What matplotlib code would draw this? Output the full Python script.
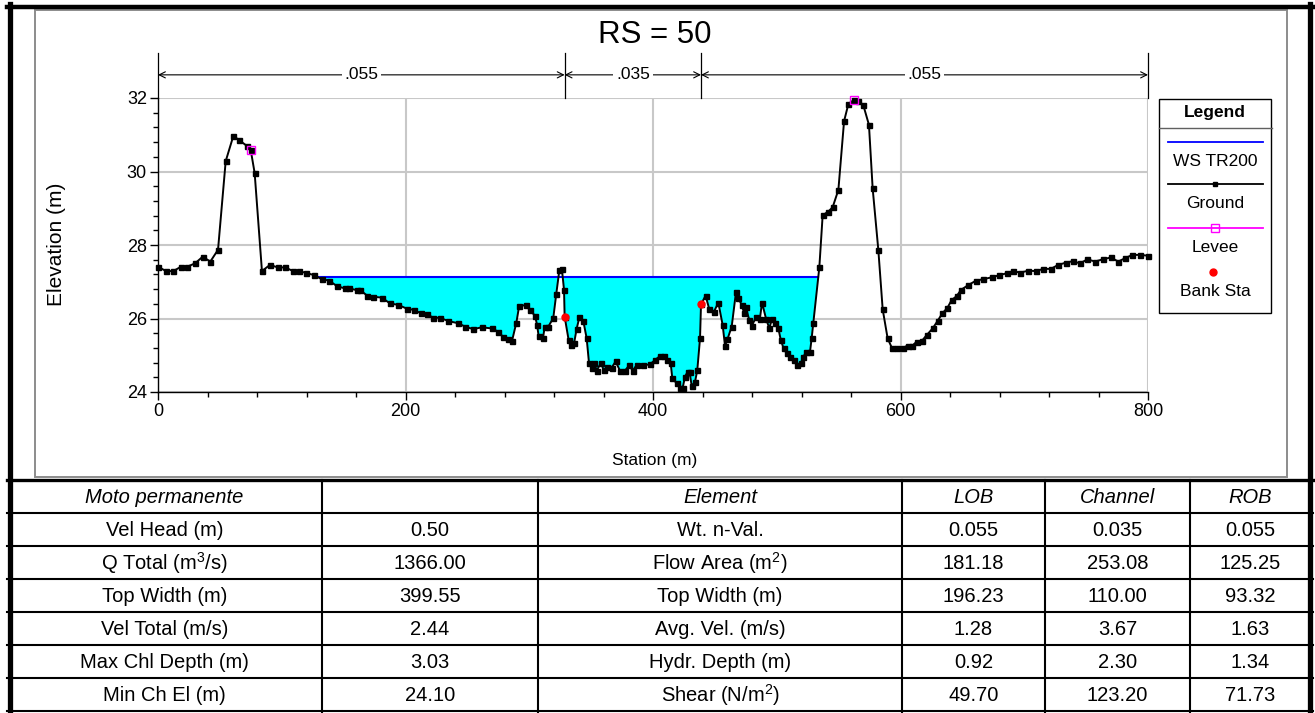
# coding: utf-8

import matplotlib
matplotlib.use("Agg")
import matplotlib.pyplot as plt
from matplotlib.lines import Line2D
from matplotlib.patches import Rectangle
from matplotlib.ticker import MultipleLocator
import numpy

plt.rcParams['font.family'] = ['Liberation Sans', 'DejaVu Sans']
plt.rcParams['mathtext.fontset'] = 'custom'
plt.rcParams['mathtext.rm'] = 'Liberation Sans'
plt.rcParams['mathtext.it'] = 'Liberation Sans:italic'

NARROW = ['Liberation Sans Narrow', 'Liberation Sans', 'DejaVu Sans']

station = [0, 6.5, 12.4, 18.6, 23.7, 29.9, 36.1, 42.3, 48.5, 54.7, 60.9, 65.7, 71.7, 74.9, 78.1,
           84.0, 90.5, 96.7, 102.9, 109.1, 113.7, 119.9, 126.1, 132.3, 138.4, 144.6, 150.8, 154.6,
           160.6, 163.5, 169.1, 174.0, 180.7, 187.5, 194.2, 200.9, 207.1, 212.5, 217.1, 222.5,
           227.9, 234.6, 242.7, 248.1, 254.8, 261.6, 269.7, 275.0, 279.0, 282.5, 286.0, 289.6,
           291.8, 297.4, 300.3, 304.6, 306.3, 307.6, 311.1, 312.5, 315.4, 319.4, 321.8, 324.3,
           326.4, 328.1, 328.6, 331.8, 333.7, 336.2, 338.3, 340.5, 343.7, 346.4, 348.3, 350.5,
           352.4, 354.5, 358.0, 360.0, 362.5, 366.5, 369.8, 373.3, 377.3, 380.9, 383.5, 386.8,
           392.2, 397.5, 401.6, 405.7, 408.9, 411.0, 414.3, 415.6, 419.1, 421.8, 423.9, 425.9,
           428.0, 429.5, 431.3, 434.0, 435.8, 438.0, 438.8, 442.5, 445.5, 449.3, 452.8, 456.3,
           458.2, 460.1, 463.6, 467.1, 469.0, 471.7, 473.5, 475.0, 477.8, 479.8, 483.2, 486.4,
           488.1, 491.3, 494.0, 496.2, 498.7, 501.3, 503.3, 505.5, 508.0, 511.0, 513.6, 516.1,
           519.5, 521.5, 523.6, 526.9, 528.2, 529.5, 534.4, 537.1, 541.7, 545.2, 549.8, 554.4,
           557.9, 562.4, 566.0, 569.9, 574.5, 577.5, 582.1, 585.6, 589.6, 592.9, 597.0, 602.3,
           605.8, 609.5, 613.1, 617.5, 621.2, 626.0, 630.1, 633.8, 637.9, 641.3, 645.4, 648.9,
           654.8, 661.0, 666.9, 673.7, 679.9, 685.8, 690.7, 696.6, 703.3, 709.5, 715.4, 721.5,
           727.5, 733.7, 739.2, 745.1, 751.0, 757.2, 763.4, 769.9, 776.0, 781.4, 787.3, 793.5,
           799.8]
elevation = [27.41, 27.29, 27.29, 27.41, 27.41, 27.50, 27.68, 27.55, 27.87, 30.28, 30.97, 30.85,
             30.70, 30.59, 29.96, 27.29, 27.46, 27.39, 27.39, 27.29, 27.29, 27.24, 27.18, 27.07,
             27.03, 26.88, 26.82, 26.82, 26.77, 26.77, 26.62, 26.59, 26.57, 26.41, 26.37, 26.27,
             26.23, 26.14, 26.12, 26.02, 26.02, 25.93, 25.87, 25.78, 25.71, 25.76, 25.73, 25.64,
             25.49, 25.44, 25.38, 25.89, 26.33, 26.37, 26.23, 26.08, 25.83, 25.52, 25.46, 25.78,
             25.78, 26.01, 26.66, 27.31, 27.34, 26.78, 26.05, 25.42, 25.28, 25.32, 25.72, 26.03,
             25.93, 25.46, 24.78, 24.66, 24.80, 24.58, 24.80, 24.60, 24.67, 24.66, 24.83, 24.58,
             24.58, 24.73, 24.58, 24.73, 24.73, 24.75, 24.87, 24.98, 24.98, 24.87, 24.78, 24.37,
             24.24, 24.10, 24.10, 24.42, 24.55, 24.55, 24.16, 24.28, 24.60, 25.46, 26.39, 26.62,
             26.25, 26.19, 26.43, 25.82, 25.25, 25.43, 25.78, 26.73, 26.55, 26.37, 26.16, 26.30,
             25.96, 25.80, 26.03, 26.00, 26.43, 26.00, 25.73, 26.00, 25.88, 25.73, 25.41, 25.19,
             25.05, 24.95, 24.87, 24.73, 24.80, 24.94, 25.10, 25.10, 25.46, 25.87, 27.39, 28.81,
             28.91, 29.03, 29.50, 31.37, 31.84, 31.95, 31.92, 31.81, 31.27, 29.54, 27.86, 26.25,
             25.46, 25.21, 25.21, 25.21, 25.26, 25.26, 25.37, 25.40, 25.55, 25.73, 25.94, 26.14,
             26.29, 26.50, 26.61, 26.78, 26.91, 27.03, 27.07, 27.12, 27.18, 27.23, 27.29, 27.25,
             27.30, 27.29, 27.35, 27.35, 27.46, 27.52, 27.56, 27.50, 27.61, 27.55, 27.61, 27.66,
             27.55, 27.64, 27.73, 27.73, 27.71]
ws_elev = 27.13
levee_sta = [74.9, 562.4]
levee_elev = [30.59, 31.95]
bank_sta = [328.6, 438.8]
bank_elev = [26.05, 26.39]
n_edges = [0, 328.6, 438.8, 800]
n_labels = [".055", ".035", ".055"]

table_header = ["Moto permanente", "", "Element", "LOB", "Channel", "ROB"]
left_names = ["Vel Head (m)", "Q Total (m$^3$/s)", "Top Width (m)", "Vel Total (m/s)",
              "Max Chl Depth (m)", "Min Ch El (m)"]
left_values = ["0.50", "1366.00", "399.55", "2.44", "3.03", "24.10"]
right_names = ["Wt. n-Val.", "Flow Area (m$^2$)", "Top Width (m)", "Avg. Vel. (m/s)",
               "Hydr. Depth (m)", "Shear (N/m$^2$)"]
lob_values = ["0.055", "181.18", "196.23", "1.28", "0.92", "49.70"]
channel_values = ["0.035", "253.08", "110.00", "3.67", "2.30", "123.20"]
rob_values = ["0.055", "125.25", "93.32", "1.63", "1.34", "71.73"]

W, H = 1315, 713


def fx(x):
    return x / W


def fy(y):
    return 1 - y / H


fig = plt.figure(figsize=(W / 100, H / 100), dpi=100)


def hline(y, x0, x1, lw, color="black"):
    fig.add_artist(Line2D([fx(x0), fx(x1)], [fy(y), fy(y)], color=color, lw=lw,
                          transform=fig.transFigure))


def vline(x, y0, y1, lw, color="black"):
    fig.add_artist(Line2D([fx(x), fx(x)], [fy(y0), fy(y1)], color=color, lw=lw,
                          transform=fig.transFigure))


# chart frame (grey) and outer frame (black)
fig.add_artist(Rectangle((fx(35), fy(477)), (1287 - 35) / W, (477 - 10) / H, fill=False,
                         edgecolor="#8c8c8c", lw=1.4, transform=fig.transFigure))
vline(9.5, 4, 713, 3.8)
hline(6.5, 7, 1313, 3.2)
vline(1310, 4, 713, 3.8)

# ---- cross section plot ----
ax = fig.add_axes([fx(158), fy(392), (1148 - 158) / W, (392 - 98) / H])
sta = numpy.array(station)
elev = numpy.array(elevation)

inside = numpy.where((sta > levee_sta[0]) & (sta < levee_sta[1]) & (elev < ws_elev))[0]
i0, i1 = inside[0], inside[-1]
x_left = numpy.interp(ws_elev, [elev[i0], elev[i0 - 1]], [sta[i0], sta[i0 - 1]])
x_right = numpy.interp(ws_elev, [elev[i1], elev[i1 + 1]], [sta[i1], sta[i1 + 1]])

mask = (sta > levee_sta[0]) & (sta < levee_sta[1]) & (elev < ws_elev)
ax.fill_between(sta, elev, ws_elev, where=mask, interpolate=True, color="#00ffff", lw=0, zorder=2)
ax.plot([x_left, x_right], [ws_elev, ws_elev], color="#0000ff", lw=1.5, zorder=3)
ax.plot(sta, elev, color="black", lw=1.4, marker="s", ms=3.6, zorder=4, clip_on=False)
ax.plot(levee_sta, levee_elev, ls="none", marker="s", ms=6, mfc="none", mec="#ff00ff",
        mew=1.0, zorder=5, clip_on=False)
ax.plot(bank_sta, bank_elev, ls="none", marker="o", ms=5, color="red", zorder=5)

ax.set_xlim(0, 800)
ax.set_ylim(24, 32)
ax.xaxis.set_major_locator(MultipleLocator(200))
ax.xaxis.set_minor_locator(MultipleLocator(40))
ax.yaxis.set_major_locator(MultipleLocator(2))
ax.yaxis.set_minor_locator(MultipleLocator(0.4))
ax.grid(True, which="major", color="#c8c8c8", lw=1.5)
ax.set_axisbelow(True)
for side in ["top", "right"]:
    ax.spines[side].set_visible(False)
ax.spines["left"].set_linewidth(1.0)
ax.spines["bottom"].set_linewidth(1.0)
ax.tick_params(which="major", direction="out", length=6, width=1, labelsize=13, pad=2)
ax.tick_params(which="minor", direction="out", length=3.5, width=1)
for lab in ax.get_xticklabels() + ax.get_yticklabels():
    lab.set_family(NARROW)

# Manning n zones above the plot
arrow_y = 32.63
for e in n_edges:
    ax.plot([e, e], [32, 33.22], color="black", lw=0.9, clip_on=False)
for k, lab in enumerate(n_labels):
    a, b = n_edges[k], n_edges[k + 1]
    ax.annotate("", xy=(a, arrow_y), xytext=(b, arrow_y), annotation_clip=False,
                arrowprops=dict(arrowstyle="<->", lw=0.8, color="black", shrinkA=0, shrinkB=0,
                                mutation_scale=11))
    ax.text((a + b) / 2, arrow_y, lab, ha="center", va="center", fontsize=12.5, family=NARROW,
            clip_on=False, bbox=dict(facecolor="white", edgecolor="none", pad=2))

fig.text(fx(655), fy(35), "RS = 50", ha="center", va="center", fontsize=22.5)
fig.text(fx(57), fy(244), "Elevation (m)", ha="center", va="center", rotation=90, fontsize=15)
fig.text(fx(655), fy(461), "Station (m)", ha="center", va="center", fontsize=12.5, family=NARROW)

# ---- legend ----
fig.add_artist(Rectangle((fx(1159), fy(313)), (1271 - 1159) / W, (313 - 99) / H, fill=False,
                         edgecolor="black", lw=1.0, transform=fig.transFigure))
hline(128, 1159, 1272, 1.0, color="#606060")
fig.text(fx(1215), fy(113), "Legend", ha="center", va="center", fontsize=12.5, weight="bold")
hline(142, 1168, 1263, 1.3, color="#0000ff")
fig.text(fx(1215), fy(161), "WS TR200", ha="center", va="center", fontsize=12.5, family=NARROW)
fig.add_artist(Line2D([fx(1168), fx(1215), fx(1263)], [fy(184)] * 3, color="black", lw=1.3,
                      marker="s", ms=3.5, markevery=[1], transform=fig.transFigure))
fig.text(fx(1215), fy(204), "Ground", ha="center", va="center", fontsize=12.5, family=NARROW)
fig.add_artist(Line2D([fx(1168), fx(1215), fx(1263)], [fy(228)] * 3, color="#ff00ff", lw=1.3,
                      marker="s", ms=6, mfc="none", mec="#ff00ff", markevery=[1],
                      transform=fig.transFigure))
fig.text(fx(1215), fy(248), "Levee", ha="center", va="center", fontsize=12.5, family=NARROW)
fig.add_artist(Line2D([fx(1213)], [fy(272)], ls="none", marker="o", ms=5, color="red",
                      transform=fig.transFigure))
fig.text(fx(1215), fy(292), "Bank Sta", ha="center", va="center", fontsize=12.5, family=NARROW)

# ---- result table ----
col_x = [7, 322, 538, 902, 1045, 1190, 1310]
row_y = [480, 513, 546, 579, 612, 645, 678, 711]
hline(480, 7, 1313, 2.4)
for y in row_y[1:]:
    hline(y, 7, 1313, 1.5)
for x in col_x[1:-1]:
    vline(x, 480, 713, 1.5)

centers = [(col_x[i] + col_x[i + 1]) / 2 for i in range(len(col_x) - 1)]
head_y = (row_y[0] + row_y[1]) / 2 + 1
for i, txt in enumerate(table_header):
    if txt:
        fig.text(fx(centers[i]), fy(head_y), txt, ha="center", va="center", fontsize=14.5,
                 style="italic")

columns = [left_names, left_values, right_names, lob_values, channel_values, rob_values]
for r in range(len(left_names)):
    yc = (row_y[r + 1] + row_y[r + 2]) / 2 + 1
    for c, col in enumerate(columns):
        fig.text(fx(centers[c]), fy(yc), col[r], ha="center", va="center", fontsize=14.5)

fig.savefig("out.png", dpi=100)
